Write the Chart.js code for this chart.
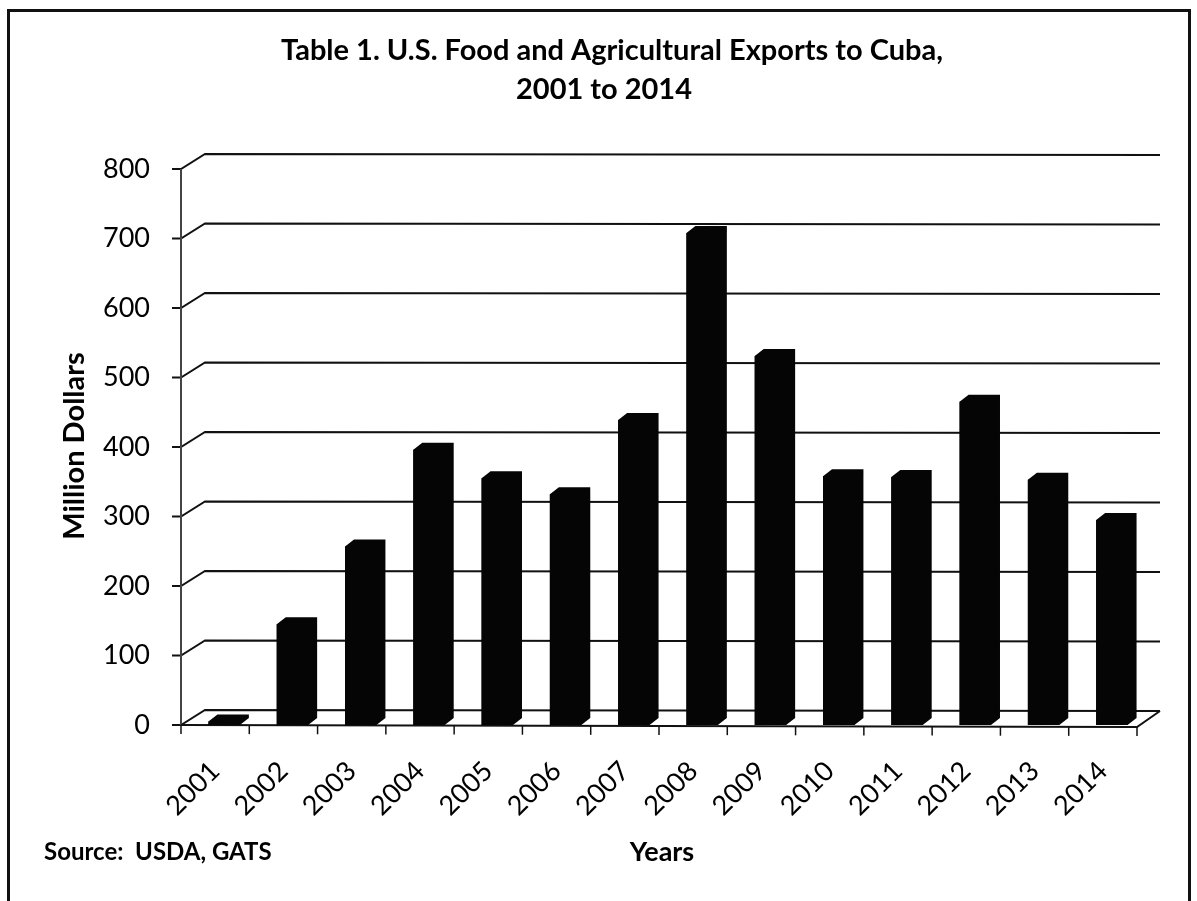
<!DOCTYPE html>
<html>
<head>
<meta charset="utf-8">
<script src="https://cdn.jsdelivr.net/npm/chart.js@4.4.0/dist/chart.umd.min.js"></script>
<style>
  body { margin: 0; background: #fff; }
  #wrap { position: relative; width: 1197px; height: 901px; }
  #frame { position: absolute; left: 7px; top: 9px; width: 1184px; height: 900px;
           border: 3px solid #111; border-bottom: none; box-sizing: border-box; }
  canvas { position: absolute; left: 0; top: 0; }
</style>
</head>
<body>
<div id="wrap">
  <canvas id="myChart" width="1197" height="901"></canvas>
  <div id="frame"></div>
</div>
<script>
// datos (millones de dolares)
const years = ['2001', '2002', '2003', '2004', '2005', '2006', '2007',
               '2008', '2009', '2010', '2011', '2012', '2013', '2014'];
const exportsToCuba = [5, 145, 257, 396, 355, 332, 439, 708, 531, 358, 357, 465, 353, 295];
const yMax = 800;
const yStep = 100;

const titleLines = ['Table 1. U.S. Food and Agricultural Exports to Cuba,', '2001 to 2014'];
const yTitle = 'Million Dollars';
const xTitle = 'Years';
const sourceNote = 'Source:  USDA, GATS';

// efecto 3D (pared de fondo y profundidad de barras)
const wall = { dx: 24, dy: -15, right: 1160 };
const barDepth = { dx: 9, dy: -7 };
const shift = 9;  // las barras estan corridas respecto del eje frontal
const ink = '#111';

const fakeThreeD = {
  id: 'fakeThreeD',
  beforeDatasetsDraw(chart) {
    const { ctx, chartArea: a, scales: { x, y } } = chart;
    const front = a.left - shift;
    const frontEnd = a.right - shift;
    const zero = y.getPixelForValue(0);
    ctx.save();
    ctx.strokeStyle = ink;
    ctx.lineWidth = 2;
    // lineas de division en la pared
    y.ticks.forEach(t => {
      const py = y.getPixelForValue(t.value);
      ctx.beginPath();
      ctx.moveTo(front - 9, py);
      ctx.lineTo(front, py);
      ctx.lineTo(front + wall.dx, py + wall.dy);
      ctx.lineTo(wall.right, py + wall.dy + 1);
      ctx.stroke();
    });
    // eje vertical frontal
    ctx.strokeStyle = '#444';
    ctx.beginPath();
    ctx.moveTo(front, y.getPixelForValue(yMax));
    ctx.lineTo(front, zero);
    ctx.stroke();
    // piso
    ctx.strokeStyle = ink;
    ctx.beginPath();
    ctx.moveTo(front, zero);
    ctx.lineTo(frontEnd, zero + 2);
    ctx.lineTo(wall.right, zero + wall.dy + 1);
    ctx.stroke();
    // marcas del eje x
    ctx.lineWidth = 1.5;
    for (let i = 0; i <= years.length; i++) {
      const px = x.getPixelForValue(i - 0.5) - shift;
      const py = zero + 2 * i / years.length;
      ctx.beginPath();
      ctx.moveTo(px, py);
      ctx.lineTo(px, py + 9);
      ctx.stroke();
    }
    ctx.restore();
  },
  afterDatasetsDraw(chart) {
    const { ctx } = chart;
    const meta = chart.getDatasetMeta(0);
    ctx.save();
    ctx.fillStyle = '#050505';
    meta.data.forEach(bar => {
      const { x: cx, y: top, base, width } = bar.getProps(['x', 'y', 'base', 'width'], true);
      const l = cx - width / 2, r = cx + width / 2;
      ctx.beginPath();
      ctx.moveTo(l, base);
      ctx.lineTo(l, top);
      ctx.lineTo(l + barDepth.dx, top + barDepth.dy);
      ctx.lineTo(r + barDepth.dx, top + barDepth.dy);
      ctx.lineTo(r + barDepth.dx, base + barDepth.dy);
      ctx.lineTo(r, base);
      ctx.closePath();
      ctx.fill();
    });
    ctx.restore();
  },
  afterDraw(chart) {
    const { ctx } = chart;
    ctx.save();
    ctx.fillStyle = '#000';
    ctx.textAlign = 'center';
    ctx.textBaseline = 'middle';
    ctx.font = 'bold 29px Lato';
    ctx.fillText(titleLines[0], 612, 51);
    ctx.fillText(titleLines[1], 604, 90);
    ctx.font = 'bold 27px Lato';
    ctx.fillText(xTitle, 662, 852);
    ctx.textAlign = 'left';
    ctx.font = 'bold 24px Lato';
    ctx.fillText(sourceNote, 44, 852);
    ctx.translate(75, 446);
    ctx.rotate(-Math.PI / 2);
    ctx.textAlign = 'center';
    ctx.font = 'bold 29px Lato';
    ctx.fillText(yTitle, 0, 0);
    ctx.restore();
  }
};

const ctx = document.getElementById('myChart').getContext('2d');
const myChart = new Chart(ctx, {
  type: 'bar',
  data: {
    labels: years,
    datasets: [{
      label: yTitle,
      data: exportsToCuba,
      backgroundColor: '#050505',
      borderWidth: 0,
      barPercentage: 0.46,
      categoryPercentage: 1
    }]
  },
  options: {
    responsive: false,
    animation: false,
    layout: { padding: { left: 0, right: 51, top: 169, bottom: 0 } },
    plugins: {
      legend: { display: false },
      title: { display: false },
      tooltip: { enabled: false }
    },
    scales: {
      x: {
        grid: { display: false, drawTicks: false },
        border: { display: false },
        ticks: {
          color: '#000',
          font: { family: 'Lato', size: 27 },
          minRotation: 45,
          maxRotation: 45,
          autoSkip: false,
          padding: 30,
          labelOffset: -shift
        },
        afterFit: scale => { scale.height = 176; }
      },
      y: {
        min: 0,
        max: yMax,
        grid: { display: false, drawTicks: false },
        border: { display: false },
        ticks: {
          stepSize: yStep,
          color: '#000',
          font: { family: 'Lato', size: 27 },
          padding: 40
        },
        afterFit: scale => { scale.width = 190; }
      }
    }
  },
  plugins: [fakeThreeD]
});
</script>
</body>
</html>
